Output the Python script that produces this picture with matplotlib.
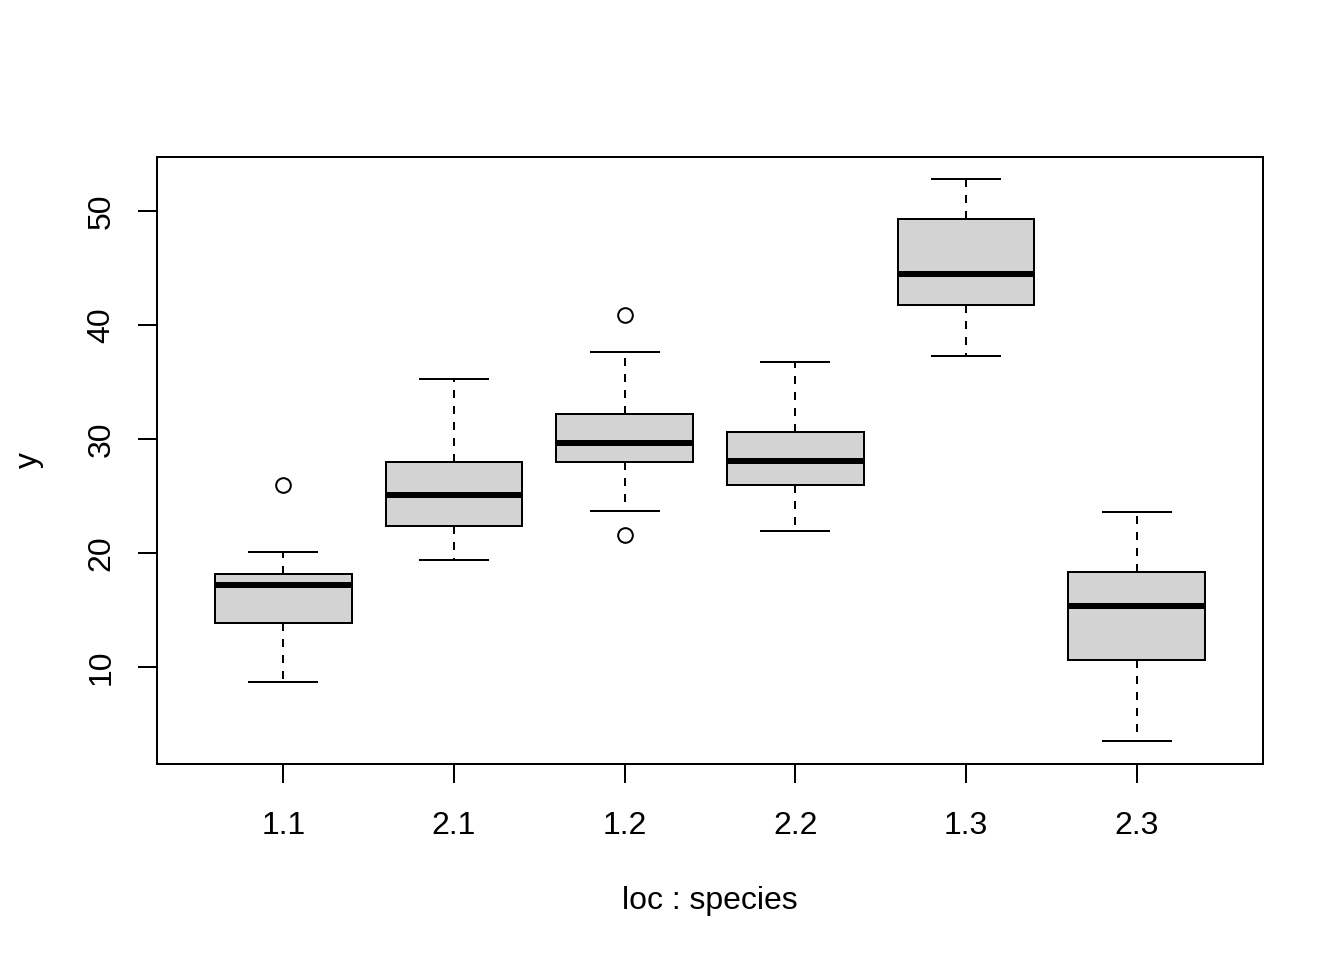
import matplotlib
matplotlib.use("Agg")
import matplotlib.pyplot as plt

# box statistics, one entry per group
groups = ["1.1", "2.1", "1.2", "2.2", "1.3", "2.3"]
whislo = [8.7, 19.4, 23.7, 21.9, 37.3, 3.5]
q1 = [13.9, 22.4, 28.0, 26.0, 41.8, 10.6]
med = [17.2, 25.1, 29.7, 28.1, 44.5, 15.4]
q3 = [18.2, 28.0, 32.2, 30.6, 49.3, 18.3]
whishi = [20.1, 35.3, 37.6, 36.8, 52.8, 23.6]
fliers = [[26.0], [], [40.9, 21.6], [], [], []]

plt.rcParams["font.family"] = ["Liberation Sans", "DejaVu Sans"]
plt.rcParams["font.size"] = 12

fig = plt.figure(figsize=(7, 5), dpi=192)
ax = fig.add_axes([157 / 1344, 1 - 764 / 960, (1263 - 157) / 1344, (764 - 157) / 960])

stats = []
for i, g in enumerate(groups):
    stats.append({
        "label": g,
        "whislo": whislo[i],
        "q1": q1[i],
        "med": med[i],
        "q3": q3[i],
        "whishi": whishi[i],
        "fliers": fliers[i],
    })

ax.bxp(
    stats,
    positions=range(1, len(groups) + 1),
    widths=0.8,
    capwidths=0.4,
    patch_artist=True,
    boxprops=dict(facecolor="#D3D3D3", edgecolor="black", linewidth=0.75),
    whiskerprops=dict(color="black", linewidth=0.75, linestyle=(0, (4, 4))),
    capprops=dict(color="black", linewidth=0.75),
    medianprops=dict(color="black", linewidth=2.25, solid_capstyle="butt"),
    flierprops=dict(marker="o", markerfacecolor="none", markeredgecolor="black",
                    markersize=5.5, markeredgewidth=0.75),
)

ax.set_xlim(0.26, 6.74)
ax.set_ylim(1.5, 54.75)
ax.set_yticks([10, 20, 30, 40, 50])
ax.set_xticks(range(1, len(groups) + 1))
ax.set_xticklabels(groups)

for s in ax.spines.values():
    s.set_linewidth(0.75)

ax.tick_params(axis="both", direction="out", length=7.2, width=0.75, labelsize=12)
ax.tick_params(axis="x", pad=10.3)
ax.tick_params(axis="y", pad=8, labelrotation=90)
for lab in ax.get_yticklabels():
    lab.set_va("center")

ax.set_xlabel("loc : species", labelpad=17)
ax.set_ylabel("y", labelpad=16)

fig.savefig("out.png", dpi=192)
